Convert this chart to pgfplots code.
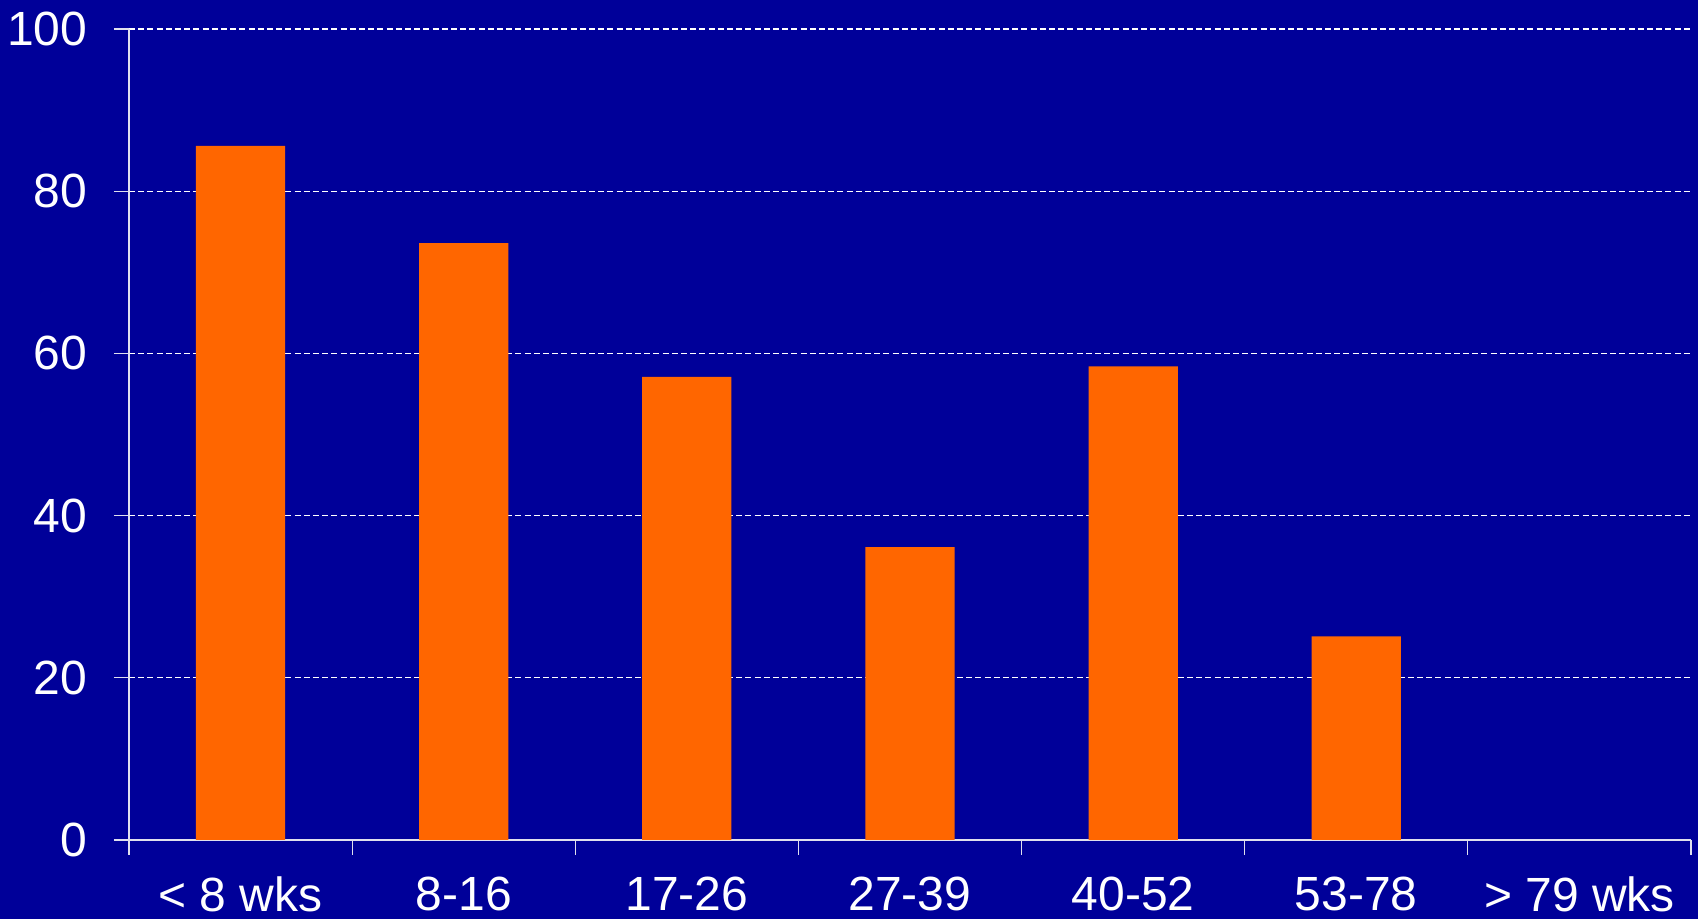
\documentclass[border=0pt]{standalone}
\usepackage{pgfplots}
\pgfplotsset{compat=1.18}
\usepackage{fontspec}
\setmainfont{Liberation Sans}
\usetikzlibrary{backgrounds}

\definecolor{slidebg}{HTML}{000099}
\definecolor{barorange}{HTML}{FF6600}
\definecolor{axisgrey}{HTML}{E0E0EE}

\begin{document}
\begin{tikzpicture}
\begin{axis}[
  at={(0,0)}, anchor=south west,
  scale only axis,
  width=781pt, height=405.5pt,
  xmin=-0.5, xmax=6.5,
  ymin=0, ymax=100,
  axis x line*=bottom,
  axis y line*=left,
  axis line style={axisgrey, line width=0.6pt, -},
  tick align=outside,
  ytick={0,20,...,100},
  major tick length=7.5pt,
  minor tick length=7.5pt,
  tick style={axisgrey, line width=0.6pt},
  xtick={0,...,6},
  xticklabels={{< 8 wks},{8-16},{17-26},{27-39},{40-52},{53-78},{> 79 wks}},
  minor xtick={-0.5,0.5,...,6.5},
  major x tick style={draw=none},
  ymajorgrids,
  grid style={white, line width=0.6pt, dash pattern=on 3pt off 1.6pt},
  tick label style={font=\fontsize{24}{24}\selectfont, text=white},
  /pgf/number format/assume math mode=true,
  yticklabel style={xshift=-9.8pt},
  xticklabel style={yshift=-7.5pt},
  ybar, bar width=0.4,
]
\addplot[fill=barorange, draw=none] coordinates {
  (0,85.6) (1,73.6) (2,57.1) (3,36.1) (4,58.4) (5,25.1)
};
\end{axis}
\begin{scope}[on background layer]
  \fill[slidebg] (-64.5pt,-39.5pt) rectangle (784.5pt,420pt);
\end{scope}
\pgfresetboundingbox
\path (-64.5pt,-39.5pt) rectangle (784.5pt,420pt);
\end{tikzpicture}
\end{document}
